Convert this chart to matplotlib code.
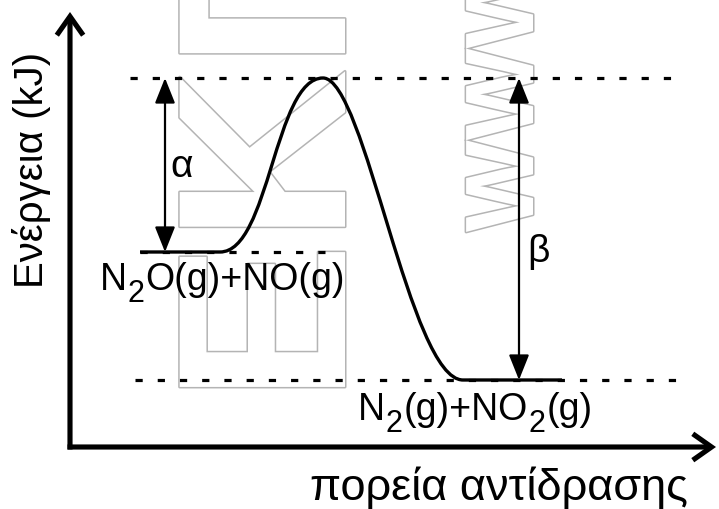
import matplotlib
matplotlib.use("Agg")
import matplotlib.pyplot as plt
from matplotlib.path import Path
from matplotlib.patches import PathPatch, FancyArrowPatch
import matplotlib.patheffects as pe

plt.rcParams['font.family'] = ['Liberation Sans', 'DejaVu Sans']
plt.rcParams['lines.scale_dashes'] = False

# ---- data (reaction progress, energy in arbitrary units) ----
level_names = ["reactants", "transition", "products"]
level_energy = [195, 369, 67]
reactant_span = [70, 150]
ts_progress = 253
product_span = [393, 492]
# bezier handle lengths (fraction of horizontal run) for the rising / falling parts
rise_handles = [0.48, 0.47]
fall_handles = [0.30, 0.38]

# formula pieces: (text, is_subscript)
reactant_parts = [("N", False), ("2", True), ("O(g)+NO(g)", False)]
product_parts = [("N", False), ("2", True), ("(g)+NO", False), ("2", True), ("(g)", False)]
alpha_label = "α"
beta_label = "β"
ylabel = "Ενέργεια (kJ)"
xlabel = "πορεία αντίδρασης"

fig = plt.figure(figsize=(7.19, 5.10), dpi=100)
ax = fig.add_axes([0, 0, 1, 1])
ax.set_xlim(-70, 649)
ax.set_ylim(-62, 448)
ax.axis('off')

E_r, E_ts, E_p = level_energy

# ---- watermark ----
wm = dict(color='white', fontweight='bold', rotation=90, rotation_mode='anchor',
          ha='left', va='baseline', zorder=0,
          path_effects=[pe.withStroke(linewidth=2.2, foreground='#b4b4b4')])
ax.text(275, 44, "ΕΚΠ", fontsize=173, **wm)
ax.text(463, 215, "WWW", fontsize=70, **wm)

# ---- dashed guide lines ----
dash = dict(color='black', lw=2.3, linestyle=(0, (5.2, 10.8)), zorder=2)
ax.plot([60, 603], [E_ts, E_ts], **dash)
ax.plot([70, 265], [E_r, E_r], **dash)
ax.plot([65, 608], [E_p, E_p], **dash)

# ---- energy profile ----
x0, x1 = reactant_span
x3, x4 = product_span
d1 = ts_progress - x1
d2 = x3 - ts_progress
verts = [
    (x0, E_r), (x1, E_r),
    (x1 + rise_handles[0] * d1, E_r), (ts_progress - rise_handles[1] * d1, E_ts), (ts_progress, E_ts),
    (ts_progress + fall_handles[0] * d2, E_ts), (x3 - fall_handles[1] * d2, E_p), (x3, E_p),
    (x4, E_p),
]
codes = [Path.MOVETO, Path.LINETO,
         Path.CURVE4, Path.CURVE4, Path.CURVE4,
         Path.CURVE4, Path.CURVE4, Path.CURVE4,
         Path.LINETO]
ax.add_patch(PathPatch(Path(verts, codes), facecolor='none', edgecolor='black',
                       lw=2.4, zorder=3, capstyle='butt'))

# ---- double arrows alpha / beta ----
arr = dict(arrowstyle='<|-|>,head_length=15.5,head_width=6.2', mutation_scale=1,
           color='black', lw=1.6, shrinkA=0, shrinkB=0, zorder=4)
ax.add_patch(FancyArrowPatch((95, E_r), (95, E_ts), **arr))
ax.add_patch(FancyArrowPatch((449, E_p), (449, E_ts), **arr))
ax.text(100, 271, alpha_label, fontsize=28, ha='left', va='baseline', zorder=5)
ax.text(457, 186, beta_label, fontsize=28, ha='left', va='baseline', zorder=5)


# ---- species labels (chained pieces with large subscripts) ----
def formula(x, y, parts, size=27, subsize=22, suboff=-8.0, gap=0.6):
    base = ax.text(x, y, parts[0][0], fontsize=size, ha='left', va='baseline', zorder=5)
    prev = base
    for s, is_sub in parts[1:]:
        if is_sub:
            t = ax.annotate(s, xy=(1, 0), xycoords=(prev, base), xytext=(gap, suboff),
                            textcoords='offset points', fontsize=subsize,
                            ha='left', va='bottom', zorder=5)
        else:
            t = ax.annotate(s, xy=(1, 0), xycoords=(prev, base), xytext=(gap, 0),
                            textcoords='offset points', fontsize=size,
                            ha='left', va='bottom', zorder=5)
        prev = t


formula(30, 158, reactant_parts)
formula(288, 28, product_parts)

# ---- axes arrows ----
axarr = dict(arrowstyle='->,head_length=13.5,head_width=9.5', mutation_scale=1,
             color='black', lw=3.7, shrinkA=0, shrinkB=0, zorder=6,
             joinstyle='miter', capstyle='butt')
ax.add_patch(FancyArrowPatch((0, -2.5), (0, 435), **axarr))
ax.add_patch(FancyArrowPatch((-2.5, 0), (646, 0), **axarr))

# ---- axis titles ----
ax.text(-27, 278, ylabel, fontsize=29, rotation=90, rotation_mode='anchor',
        ha='center', va='baseline')
ax.text(240, -52, xlabel, fontsize=32.5, ha='left', va='baseline')

fig.savefig("out.png", dpi=100)
